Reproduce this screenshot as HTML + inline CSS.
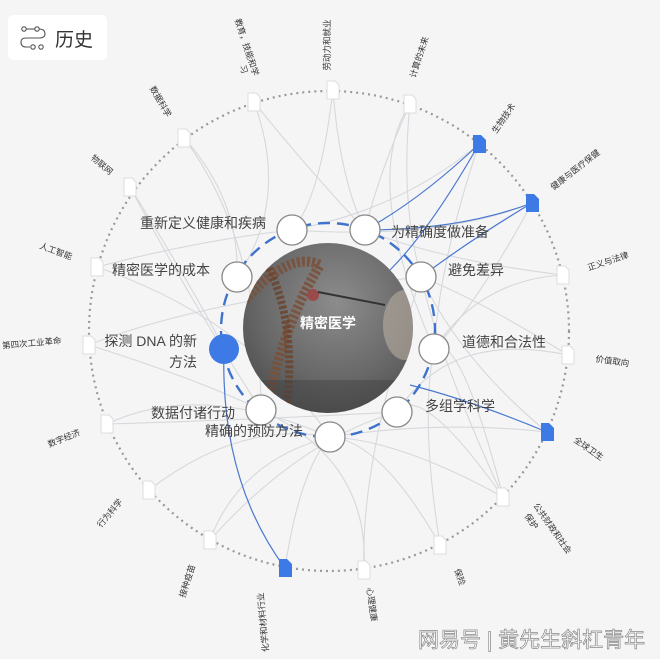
<!DOCTYPE html>
<html><head><meta charset="utf-8"><style>
html,body{margin:0;padding:0;background:#f5f5f5;}
svg{display:block;font-family:"Liberation Sans","Noto Sans CJK SC",sans-serif;}
</style></head><body>
<svg width="660" height="659" viewBox="0 0 660 659" xmlns="http://www.w3.org/2000/svg">
<defs>
<radialGradient id="ph" cx="0.55" cy="0.35" r="0.75">
<stop offset="0" stop-color="#8c8c8c"/><stop offset="0.6" stop-color="#686868"/><stop offset="1" stop-color="#4a4a4a"/>
</radialGradient>
<clipPath id="cc"><circle cx="328" cy="328" r="85"/></clipPath>
</defs>
<rect width="660" height="659" fill="#f5f5f5"/>
<circle cx="329" cy="331" r="240" fill="none" stroke="#999" stroke-width="2.2" stroke-dasharray="2 4"/>
<g fill="none" stroke="#d6d8dc" stroke-width="1.1">
<path d="M254 102 Q300 160 365 230"/>
<path d="M254 102 Q290 200 237 277"/>
<path d="M333 90 Q340 180 365 230"/>
<path d="M333 90 Q320 200 292 230"/>
<path d="M410 104 Q380 170 365 230"/>
<path d="M410 104 Q400 200 421 277"/>
<path d="M410 104 Q360 180 434 349"/>
<path d="M184 138 Q240 200 237 277"/>
<path d="M184 138 Q260 240 261 410"/>
<path d="M130 187 Q200 300 224 349"/>
<path d="M130 187 Q190 300 261 410"/>
<path d="M97 267 Q200 240 292 230"/>
<path d="M97 267 Q250 320 330 437"/>
<path d="M89 345 Q200 380 261 410"/>
<path d="M89 345 Q200 300 421 277"/>
<path d="M107 424 Q200 380 330 437"/>
<path d="M107 424 Q250 420 397 412"/>
<path d="M149 490 Q240 420 330 437"/>
<path d="M210 540 Q240 460 330 437"/>
<path d="M210 540 Q300 440 397 412"/>
<path d="M364 570 Q360 460 421 277"/>
<path d="M364 570 Q370 460 261 410"/>
<path d="M440 545 Q420 420 434 349"/>
<path d="M440 545 Q380 440 330 437"/>
<path d="M503 497 Q420 380 397 412"/>
<path d="M503 497 Q440 360 421 277"/>
<path d="M503 497 Q400 440 330 437"/>
<path d="M503 497 Q460 330 434 349"/>
<path d="M568 355 Q480 300 421 277"/>
<path d="M568 355 Q450 330 397 412"/>
<path d="M563 275 Q480 280 434 349"/>
<path d="M563 275 Q440 260 365 230"/>
<path d="M547 432 Q440 420 330 437"/>
<path d="M547 432 Q460 360 421 277"/>
<path d="M532 203 Q440 240 292 230"/>
<path d="M532 203 Q480 300 434 349"/>
<path d="M479 144 Q400 210 292 230"/>
<path d="M479 144 Q440 260 434 349"/>
<path d="M285 568 Q300 470 330 437"/>
</g>
<g fill="none" stroke="#4a78d0" stroke-width="1.2">
<path d="M479 144 Q420 200 365 230"/>
<path d="M479 144 Q430 230 390 270"/>
<path d="M532 203 Q470 240 421 277"/>
<path d="M532 203 Q460 230 365 230"/>
<path d="M547 432 Q470 400 410 385"/>
<path d="M224 349 Q220 480 285 568"/>
</g>
<circle cx="328" cy="330" r="107" fill="none" stroke="#3f72cf" stroke-width="2.4" stroke-dasharray="12 7"/>
<circle cx="328" cy="328" r="85" fill="url(#ph)"/>
<g clip-path="url(#cc)">
<path d="M245 300 Q290 250 320 265 Q280 330 265 420" stroke="#7a5038" stroke-width="10" fill="none" stroke-dasharray="3 2" opacity="0.85"/>
<path d="M262 255 Q300 320 285 420" stroke="#6a4430" stroke-width="8" fill="none" stroke-dasharray="3 2" opacity="0.85"/>
<circle cx="313" cy="295" r="6" fill="#9a4a4a"/>
<path d="M318 292 L385 305" stroke="#333" stroke-width="2"/>
<ellipse cx="405" cy="325" rx="22" ry="35" fill="#b8aea2" opacity="0.6"/>
<rect x="240" y="380" width="180" height="40" fill="#3e3e3e" opacity="0.4"/>
</g>
<text x="328" y="328" fill="#fff" font-size="14" font-weight="bold" text-anchor="middle">精密医学</text>
<g fill="#fff" stroke="#888" stroke-width="1.3">
<circle cx="292" cy="230" r="15"/>
<circle cx="365" cy="230" r="15"/>
<circle cx="237" cy="277" r="15"/>
<circle cx="421" cy="277" r="15"/>
<circle cx="434" cy="349" r="15"/>
<circle cx="261" cy="410" r="15"/>
<circle cx="397" cy="412" r="15"/>
<circle cx="330" cy="437" r="15"/>
</g>
<circle cx="224" cy="349" r="15" fill="#3d7ae6"/>
<g fill="#444" font-size="14">
<text x="266" y="228" text-anchor="end">重新定义健康和疾病</text>
<text x="391" y="237">为精确度做准备</text>
<text x="210" y="275" text-anchor="end">精密医学的成本</text>
<text x="448" y="275">避免差异</text>
<text x="197" y="346" text-anchor="end">探测 DNA 的新</text>
<text x="197" y="367" text-anchor="end">方法</text>
<text x="462" y="347">道德和合法性</text>
<text x="235" y="418" text-anchor="end">数据付诸行动</text>
<text x="303" y="436" text-anchor="end">精确的预防方法</text>
<text x="425" y="411">多组学科学</text>
</g>
<g fill="#fff" stroke="#ddd" stroke-width="1">
<path d="M248 93 h8 l4 4 v14 h-12z"/>
<path d="M327 81 h8 l4 4 v14 h-12z"/>
<path d="M404 95 h8 l4 4 v14 h-12z"/>
<path d="M178 129 h8 l4 4 v14 h-12z"/>
<path d="M124 178 h8 l4 4 v14 h-12z"/>
<path d="M557 266 h8 l4 4 v14 h-12z"/>
<path d="M91 258 h8 l4 4 v14 h-12z"/>
<path d="M83 336 h8 l4 4 v14 h-12z"/>
<path d="M562 346 h8 l4 4 v14 h-12z"/>
<path d="M101 415 h8 l4 4 v14 h-12z"/>
<path d="M143 481 h8 l4 4 v14 h-12z"/>
<path d="M497 488 h8 l4 4 v14 h-12z"/>
<path d="M204 531 h8 l4 4 v14 h-12z"/>
<path d="M358 561 h8 l4 4 v14 h-12z"/>
<path d="M434 536 h8 l4 4 v14 h-12z"/>
</g>
<g fill="#3d7ae6">
<path d="M473 135 h8 l5 5 v13 h-13z"/>
<path d="M526 194 h8 l5 5 v13 h-13z"/>
<path d="M541 423 h8 l5 5 v13 h-13z"/>
<path d="M279 559 h8 l5 5 v13 h-13z"/>
</g>
<g fill="#333" font-size="8.5" text-anchor="middle">
<text transform="translate(244,48) rotate(72)">教育，技能和学</text>
<text transform="translate(241,70) rotate(72)">习</text>
<text transform="translate(330,45) rotate(-90)">劳动力和就业</text>
<text transform="translate(422,58) rotate(-72)">计算的未来</text>
<text transform="translate(506,120) rotate(-55)">生物技术</text>
<text transform="translate(158,103) rotate(60)">数据科学</text>
<text transform="translate(577,172) rotate(-38)">健康与医疗保健</text>
<text transform="translate(100,167) rotate(40)">物联网</text>
<text transform="translate(609,264) rotate(-18)">正义与法律</text>
<text transform="translate(55,254) rotate(20)">人工智能</text>
<text transform="translate(32,346) rotate(-5)">第四次工业革命</text>
<text transform="translate(612,364) rotate(8)">价值取向</text>
<text transform="translate(65,441) rotate(-22)">数字经济</text>
<text transform="translate(587,451) rotate(35)">全球卫生</text>
<text transform="translate(112,515) rotate(-50)">行为科学</text>
<text transform="translate(550,530) rotate(55)">公共财政和社会</text>
<text transform="translate(529,523) rotate(55)">保护</text>
<text transform="translate(190,582) rotate(-72)">接种疫苗</text>
<text transform="translate(266,622) rotate(-95)">化学和材料行业</text>
<text transform="translate(369,605) rotate(82)">心理健康</text>
<text transform="translate(457,578) rotate(70)">保险</text>
</g>
<rect x="8" y="15" width="99" height="45" rx="5" fill="#fff"/>
<g fill="none" stroke="#555" stroke-width="1.1">
<circle cx="24" cy="29" r="2.2"/><circle cx="37" cy="29" r="2.2"/><path d="M26 29 h9"/>
<path d="M39 29 q6 0 6 5 q0 4 -6 4 h-13 q-5 0 -5 4 q0 5 5 5 h4"/>
<circle cx="33" cy="47" r="2.2"/><circle cx="41" cy="47" r="2.2"/>
</g>
<text x="55" y="46" font-size="19" fill="#333">历史</text>
<text x="418" y="647" font-size="21" fill="#fff" stroke="#888" stroke-width="0.7">网易号 | 黄先生斜杠青年</text>
</svg>
</body></html>
